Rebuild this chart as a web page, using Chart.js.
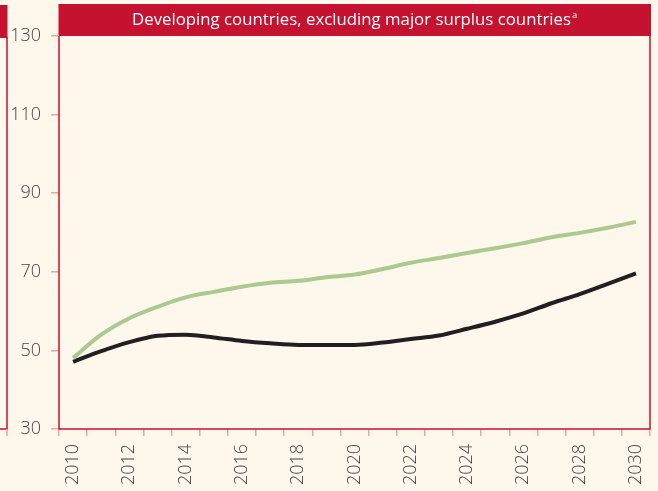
<!DOCTYPE html>
<html>
<head>
<meta charset="utf-8">
<script src="https://cdn.jsdelivr.net/npm/chart.js@4.4.1/dist/chart.umd.min.js"></script>
<style>
  html, body { margin: 0; padding: 0; background: #FEF7EB; }
  #wrap { width: 658px; height: 491px; position: relative; }
</style>
</head>
<body>
<div id="wrap"><canvas id="chart"></canvas></div>
<script>
// years on the x axis (one category each)
const years = ['2010', '2011', '2012', '2013', '2014', '2015', '2016', '2017', '2018', '2019', '2020',
  '2021', '2022', '2023', '2024', '2025', '2026', '2027', '2028', '2029', '2030'];
// only these get a label
const xTickLabels = ['2010', '2012', '2014', '2016', '2018', '2020', '2022', '2024', '2026', '2028', '2030'];

// green line
const greenValues = [48.1, 54.0, 58.2, 61.1, 63.5, 64.9, 66.2, 67.2, 67.7, 68.6, 69.3,
  70.7, 72.3, 73.5, 74.8, 76.0, 77.3, 78.8, 79.9, 81.2, 82.7];
// black line
const blackValues = [47.1, 49.8, 52.1, 53.7, 54.0, 53.3, 52.4, 51.8, 51.4, 51.4, 51.4,
  52.0, 52.9, 53.8, 55.5, 57.3, 59.4, 62.0, 64.3, 66.9, 69.6];

const yMin = 30, yMax = 130, yStep = 20;
const panelTitle = 'Developing countries, excluding major surplus countries';

const RED = '#C41230';
const PINK = '#EFA59B';
const CREAM = '#FEF7EB';
const TEXT = '#454545';

// draws background, header band, frame and the cut-off panel on the left
const framePlugin = {
  id: 'frame',
  beforeDraw(chart) {
    const ctx = chart.ctx;
    const a = chart.chartArea;
    ctx.save();
    ctx.fillStyle = CREAM;
    ctx.fillRect(0, 0, chart.width, chart.height);

    // header band
    ctx.fillStyle = RED;
    ctx.fillRect(a.left - 0.5, 4, a.right - a.left + 1.5, a.top - 4);
    ctx.fillStyle = '#ffffff';
    ctx.font = '16.8px "Open Sans", sans-serif';
    ctx.textBaseline = 'middle';
    const w = ctx.measureText(panelTitle).width;
    const cx = (a.left + a.right) / 2;
    ctx.textAlign = 'left';
    ctx.fillText(panelTitle, cx - w / 2 - 3, 20.5);
    ctx.font = '9.5px "Open Sans", sans-serif';
    ctx.fillText('a', cx + w / 2 - 2, 15);

    // piece of the neighbouring panel
    ctx.fillStyle = RED;
    ctx.fillRect(0, 5, 7.5, 33);
    ctx.strokeStyle = RED;
    ctx.lineWidth = 1.5;
    ctx.beginPath();
    ctx.moveTo(7, 37);
    ctx.lineTo(7, a.bottom);
    ctx.lineTo(0, a.bottom);
    ctx.stroke();
    ctx.strokeStyle = PINK;
    ctx.beginPath();
    ctx.moveTo(7, a.bottom);
    ctx.lineTo(7, a.bottom + 7);
    ctx.stroke();
    ctx.restore();
  },
  beforeDatasetsDraw(chart) {
    const ctx = chart.ctx;
    const a = chart.chartArea;
    ctx.save();
    ctx.strokeStyle = RED;
    ctx.lineWidth = 1.5;
    ctx.beginPath();
    ctx.moveTo(a.left, a.top);
    ctx.lineTo(a.left, a.bottom);
    ctx.lineTo(a.right, a.bottom);
    ctx.lineTo(a.right, a.top);
    ctx.stroke();
    ctx.restore();
  }
};

const tickFont = { family: '"Open Sans", sans-serif', size: 18, weight: '300' };

new Chart(document.getElementById('chart'), {
  type: 'line',
  data: {
    labels: years,
    datasets: [
      {
        data: greenValues,
        borderColor: '#AACA90',
        borderWidth: 4,
        pointRadius: 0,
        tension: 0.4,
        cubicInterpolationMode: 'monotone'
      },
      {
        data: blackValues,
        borderColor: '#231F20',
        borderWidth: 4,
        pointRadius: 0,
        tension: 0.4,
        cubicInterpolationMode: 'monotone'
      }
    ]
  },
  options: {
    responsive: true,
    maintainAspectRatio: false,
    animation: false,
    layout: { padding: { top: 36, right: 8, left: 0, bottom: 0 } },
    plugins: { legend: { display: false }, tooltip: { enabled: false } },
    scales: {
      x: {
        offset: true,
        grid: { offset: true, drawOnChartArea: false, tickLength: 7, color: PINK, lineWidth: 1.5 },
        border: { display: false },
        ticks: {
          autoSkip: false,
          maxRotation: 90,
          minRotation: 90,
          padding: 8,
          color: TEXT,
          font: tickFont,
          callback: function (v, i) {
            const lab = years[i];
            return xTickLabels.includes(lab) ? lab : '';
          }
        },
        afterFit: function (scale) {
          scale.height = 62;
          // last label sits inside its category, no overhang needed
          scale.paddingRight = 0;
          scale.paddingLeft = 0;
        }
      },
      y: {
        min: yMin,
        max: yMax,
        grid: { drawOnChartArea: false, tickLength: 8, color: PINK, lineWidth: 1.5 },
        border: { display: false },
        ticks: { stepSize: yStep, padding: 10, color: TEXT, font: tickFont },
        afterFit: function (scale) { scale.width = 59; }
      }
    }
  },
  plugins: [framePlugin]
});
</script>
</body>
</html>
